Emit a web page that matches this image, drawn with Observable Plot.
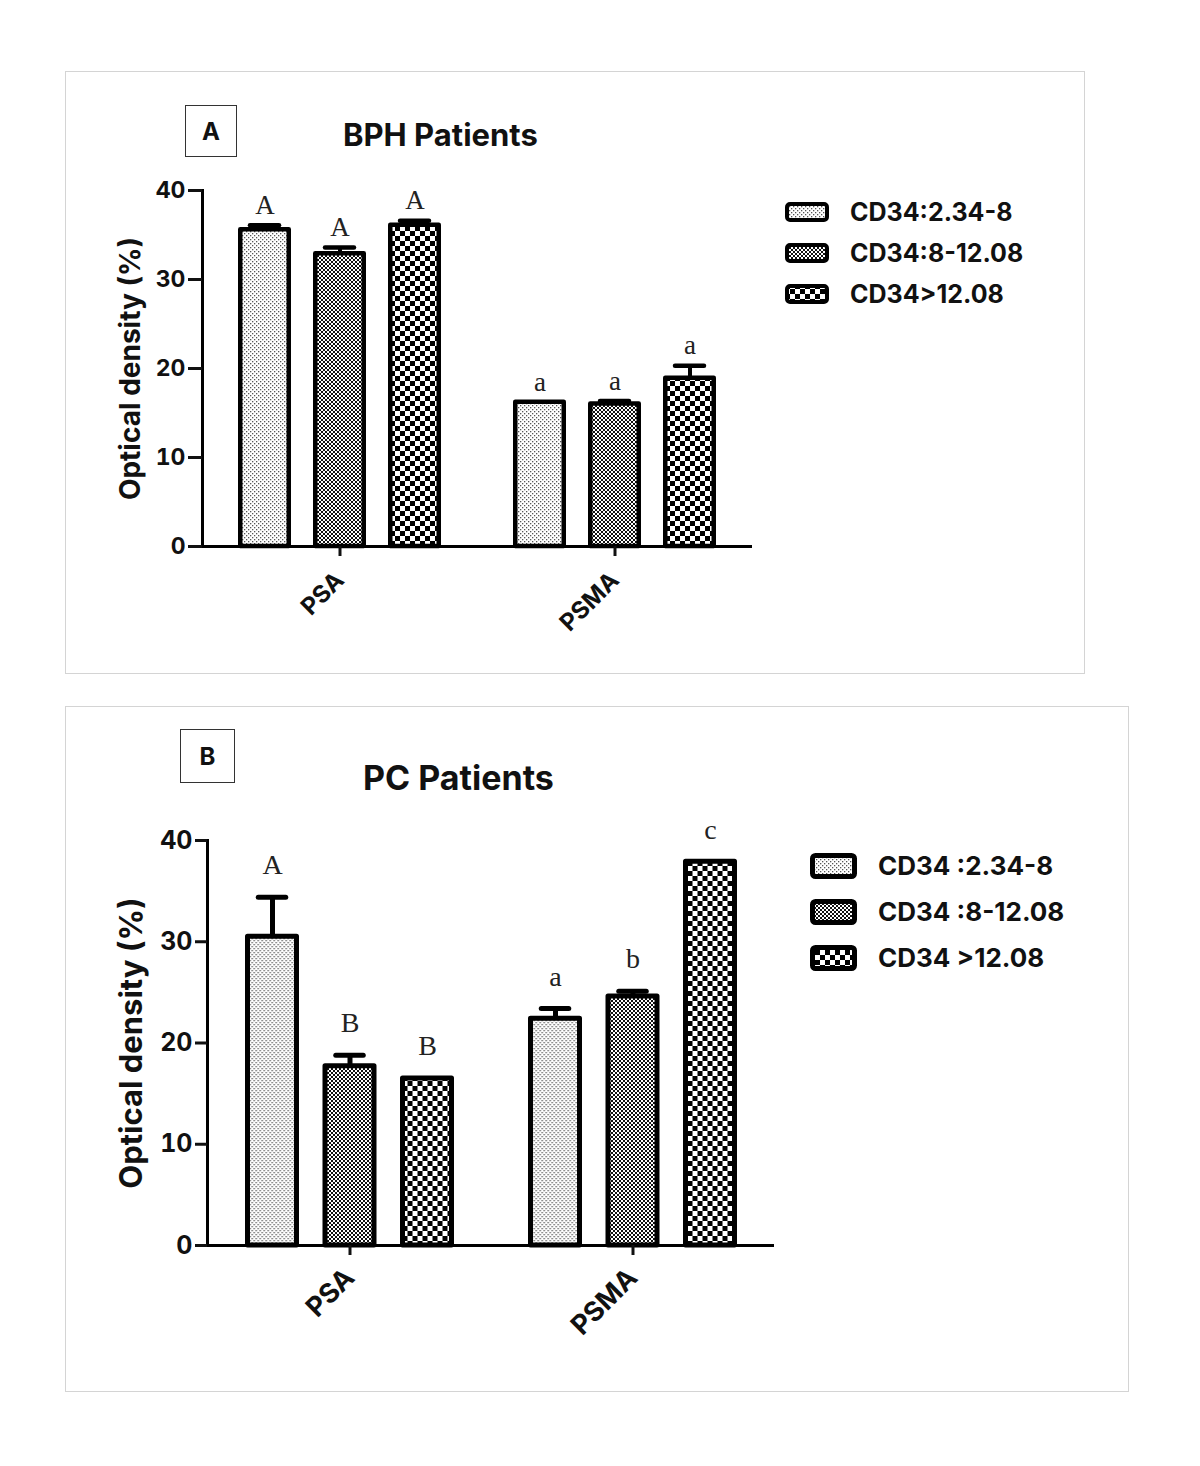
<!DOCTYPE html>
<html><head><meta charset="utf-8">
<script src="https://cdn.jsdelivr.net/npm/d3@7"></script>
<script src="https://cdn.jsdelivr.net/npm/@observablehq/plot@0.6"></script>
<style>
body{margin:0;background:#fff;width:1200px;height:1466px;position:relative;font-family:Inter,"DejaVu Sans",Arial,sans-serif;color:#111;}
.panel{position:absolute;border:1px solid #d4d4d4;box-sizing:border-box}
.tag{position:absolute;border:1.5px solid #333;box-sizing:border-box;display:flex;align-items:center;justify-content:center;font-weight:700}
.title{position:absolute;font-weight:700;white-space:nowrap;line-height:1}
.leg{position:absolute;display:flex;align-items:center;font-weight:700;white-space:nowrap;line-height:1}
.plot{position:absolute}
</style></head><body>
<svg width="0" height="0" style="position:absolute;left:0;top:0">
  <defs>
    <pattern id="pLight" patternUnits="userSpaceOnUse" width="4" height="4">
      <rect width="4" height="4" fill="#fff"/>
      <rect x="0" y="0" width="1.3" height="1.3" fill="#555"/>
      <rect x="2" y="2" width="1.3" height="1.3" fill="#555"/>
    </pattern>
    <pattern id="pMedium" patternUnits="userSpaceOnUse" width="4" height="4">
      <rect width="4" height="4" fill="#fff"/>
      <rect x="0" y="0" width="2" height="2" fill="#111"/>
      <rect x="2" y="2" width="2" height="2" fill="#111"/>
    </pattern>
    <pattern id="pCheck" patternUnits="userSpaceOnUse" width="10" height="10">
      <rect width="10" height="10" fill="#fff"/>
      <rect x="0" y="0" width="5" height="5" fill="#000"/>
      <rect x="5" y="5" width="5" height="5" fill="#000"/>
    </pattern>
  </defs>
</svg>

<div class="panel" style="left:65px;top:71px;width:1020px;height:603px"></div>
<div class="tag" style="left:185px;top:105px;width:52px;height:52px;font-size:24px">A</div>
<div class="title" style="left:343px;top:119px;font-size:31px">BPH Patients</div>
<div id="legA"></div>
<div id="plotA" class="plot" style="left:65px;top:71px"></div>

<div class="panel" style="left:65px;top:706px;width:1064px;height:686px"></div>
<div class="tag" style="left:180px;top:729px;width:55px;height:54px;font-size:24px">B</div>
<div class="title" style="left:363px;top:761px;font-size:34px">PC Patients</div>
<div id="legB"></div>
<div id="plotB" class="plot" style="left:65px;top:706px"></div>

<script>
const groups = ["PSA", "PSMA"];
const bphSeries = ["CD34:2.34-8", "CD34:8-12.08", "CD34>12.08"];
const pcSeries = ["CD34 :2.34-8", "CD34 :8-12.08", "CD34 >12.08"];
const yTicks = [0, 10, 20, 30, 40];
const yLabel = "Optical density (%)";

const bphPSA = [35.6, 32.9, 36.1];
const bphPSAerr = [0.5, 0.7, 0.5];
const bphPSAletters = ["A", "A", "A"];
const bphPSMA = [16.2, 16.0, 18.9];
const bphPSMAerr = [0.0, 0.35, 1.4];
const bphPSMAletters = ["a", "a", "a"];

const pcPSA = [30.5, 17.7, 16.5];
const pcPSAerr = [3.9, 1.1, 0.0];
const pcPSAletters = ["A", "B", "B"];
const pcPSMA = [22.4, 24.6, 37.9];
const pcPSMAerr = [1.0, 0.5, 0.0];
const pcPSMAletters = ["a", "b", "c"];

const patterns = ["url(#pLight)", "url(#pMedium)", "url(#pCheck)"];

function table(series, psa, psaErr, psaLet, psma, psmaErr, psmaLet) {
  const out = [];
  series.forEach((s, i) => {
    out.push({group: groups[0], series: s, k: i, value: psa[i], err: psaErr[i], top: psa[i] + psaErr[i], letter: psaLet[i]});
    out.push({group: groups[1], series: s, k: i, value: psma[i], err: psmaErr[i], top: psma[i] + psmaErr[i], letter: psmaLet[i]});
  });
  return out;
}

function chart(data, c) {
  const bw = (c.width - c.ml - c.mr) / groups.length;
  const inset = (bw - c.barW) / 2;
  const capInset = (bw - c.capW) / 2;
  const marks = [];
  [0, 1, 2].forEach(k => {
    const d = data.filter(r => r.k === k);
    const de = d.filter(r => r.err > 0);
    const dx = (k - 1) * c.step;
    marks.push(
      Plot.ruleX(de, {x: "group", y1: "value", y2: "top", dx, stroke: "#000", strokeWidth: c.errW}),
      Plot.tickY(de, {x: "group", y: "top", dx, stroke: "#000", strokeWidth: c.capH, insetLeft: capInset, insetRight: capInset, strokeLinecap: "round"}),
      Plot.barY(d, {x: "group", y: "value", dx, fill: patterns[k], stroke: "#000", strokeWidth: c.barStroke, strokeLinejoin: "round", insetLeft: inset, insetRight: inset}),
      Plot.text(d, {x: "group", y: "top", text: "letter", dx, dy: c.letterDy, fontFamily: "'Liberation Serif','Times New Roman',serif", fontSize: c.letterSize, fontWeight: "normal", fill: "#222"})
    );
  });
  marks.push(
    Plot.ruleY([0], {stroke: "#000", strokeWidth: 3, insetLeft: -c.tick}),
    Plot.frame({anchor: "left", stroke: "#000", strokeWidth: 3}),
    Plot.axisY({ticks: yTicks, tickSize: c.tick, tickPadding: 3, fontSize: c.tickFont, fontWeight: "bold", strokeWidth: 3, label: null}),
    Plot.axisX({tickSize: 10, tickPadding: c.xPad, tickRotate: -45, fontSize: c.xFont, fontWeight: "bold", strokeWidth: 3, label: null}),
    Plot.text([yLabel], {frameAnchor: "left", textAnchor: "middle", rotate: -90, dx: c.yLabelDx, fontSize: c.yLabelSize, fontWeight: "bold", fill: "#111"})
  );
  return Plot.plot({
    width: c.width, height: c.height,
    marginLeft: c.ml, marginRight: c.mr, marginTop: c.mt, marginBottom: c.mb,
    style: {fontFamily: "Inter,'DejaVu Sans',Arial,sans-serif", fontWeight: "bold", color: "#111", background: "transparent", overflow: "visible"},
    x: {domain: groups, padding: 0},
    y: {domain: [0, 40]},
    marks
  });
}

function legend(el, series, c) {
  series.forEach((s, k) => {
    const row = document.createElement("div");
    row.className = "leg";
    row.style.left = c.left + "px";
    row.style.top = (c.y0 + k * c.dy - 18) + "px";
    row.style.height = "36px";
    row.style.fontSize = c.font + "px";
    const sw = d3.create("svg").attr("width", c.w).attr("height", c.h).style("margin-right", c.gap + "px");
    sw.append("rect").attr("x", c.sw / 2).attr("y", c.sw / 2).attr("width", c.w - c.sw).attr("height", c.h - c.sw)
      .attr("rx", 3).attr("fill", patterns[k]).attr("stroke", "#000").attr("stroke-width", c.sw);
    row.appendChild(sw.node());
    const t = document.createElement("span");
    t.textContent = s;
    row.appendChild(t);
    el.appendChild(row);
  });
}

document.getElementById("plotA").appendChild(chart(
  table(bphSeries, bphPSA, bphPSAerr, bphPSAletters, bphPSMA, bphPSMAerr, bphPSMAletters),
  {width: 720, height: 603, ml: 137, mr: 33, mt: 119, mb: 128, step: 75, barW: 48.5, barStroke: 4.5,
   capW: 29, capH: 4.5, errW: 4, tick: 14, letterDy: -20, letterSize: 27, tickFont: 23, xFont: 24, xPad: 20,
   yLabelSize: 28, yLabelDx: -71}
));
document.getElementById("plotB").appendChild(chart(
  table(pcSeries, pcPSA, pcPSAerr, pcPSAletters, pcPSMA, pcPSMAerr, pcPSMAletters),
  {width: 760, height: 686, ml: 142, mr: 51, mt: 134, mb: 147, step: 77.5, barW: 49.5, barStroke: 5,
   capW: 28, capH: 5, errW: 5, tick: 12, letterDy: -32, letterSize: 28, tickFont: 25, xFont: 27, xPad: 18,
   yLabelSize: 31, yLabelDx: -75}
));
legend(document.getElementById("legA"), bphSeries, {left: 785, y0: 212, dy: 41, w: 44, h: 20, sw: 4, gap: 21, font: 25});
legend(document.getElementById("legB"), pcSeries, {left: 810, y0: 866, dy: 46, w: 47, h: 26, sw: 5, gap: 21, font: 26});
</script>
</body></html>
